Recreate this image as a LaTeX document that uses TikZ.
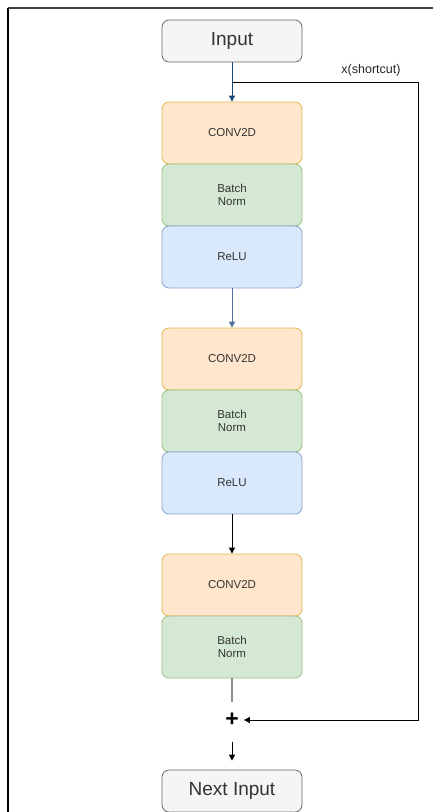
\documentclass[tikz,border=0pt]{standalone}
\usepackage{fontspec}
\setmainfont{Liberation Sans}
\usetikzlibrary{arrows.meta}
\definecolor{convfill}{HTML}{FFE6CC}
\definecolor{convdraw}{HTML}{D79B00}
\definecolor{bnfill}{HTML}{D5E8D4}
\definecolor{bndraw}{HTML}{82B366}
\definecolor{relufill}{HTML}{DAE8FC}
\definecolor{reludraw}{HTML}{6C8EBF}
\definecolor{iofill}{HTML}{F5F5F5}
\definecolor{iodraw}{HTML}{666666}
\definecolor{darkblue}{HTML}{1C4A78}
\definecolor{midblue}{HTML}{4F6F96}
\definecolor{txt}{HTML}{333333}
\tikzset{
  layer/.style={rounded corners=7pt, minimum width=140pt, minimum height=62pt, inner sep=0pt, align=center, font=\fontsize{11.5}{12.5}\selectfont, text=txt, line width=0.8pt},
  conv/.style={layer, fill=convfill, draw=convdraw!70},
  bn/.style={layer, fill=bnfill, draw=bndraw!80},
  relu/.style={layer, fill=relufill, draw=reludraw!80},
  io/.style={rounded corners=7pt, minimum width=140pt, minimum height=42pt, inner sep=0pt, fill=iofill, draw=iodraw, line width=0.8pt, font=\fontsize{19}{21}\selectfont, text=txt},
  arr/.style={-{Triangle[length=6pt,width=6pt]}, line width=1pt},
}
\begin{document}
\begin{tikzpicture}[x=1pt,y=-1pt]
\useasboundingbox (0,0) rectangle (433,812);
% frame
\draw[line width=2pt, color=black!75] (8,8) -- (433,8);
\draw[line width=2pt, color=black] (8,8) -- (8,812);
% nodes
\node[io] (in) at (232,41) {Input};
\node[conv] (c1) at (232,133) {CONV2D};
\node[bn]   (b1) at (232,195) {Batch\\Norm};
\node[relu] (r1) at (232,257) {ReLU};
\node[conv] (c2) at (232,359) {CONV2D};
\node[bn]   (b2) at (232,421) {Batch\\Norm};
\node[relu] (r2) at (232,483) {ReLU};
\node[conv] (c3) at (232,585) {CONV2D};
\node[bn]   (b3) at (232,647) {Batch\\Norm};
\node[font=\fontsize{23}{23}\selectfont\bfseries, inner sep=1pt] (plus) at (232,720) {+};
\node[io] (out) at (232,791) {Next Input};
\node[font=\fontsize{12.5}{14}\selectfont, text=black!85, anchor=base] (lbl) at (371,73) {x(shortcut)};
% connectors
\draw[arr, color=darkblue] (in) -- (c1);
\draw[arr, color=midblue] (r1) -- (c2);
\draw[arr, color=black] (r2) -- (c3);
\coordinate (gend) at (232,702);
\draw[line width=1.4pt, color=black!45] (b3) -- (gend);
\coordinate (sc) at (232,82);
\coordinate (scr) at (418,82);
\coordinate (scb) at (418,720);
\draw[arr, color=black] (sc) -- (scr) -- (scb) -- ([xshift=4pt]plus.east);
\draw[arr, color=black, shorten <=14pt, shorten >=9pt] (plus) -- (out);
\end{tikzpicture}
\end{document}
